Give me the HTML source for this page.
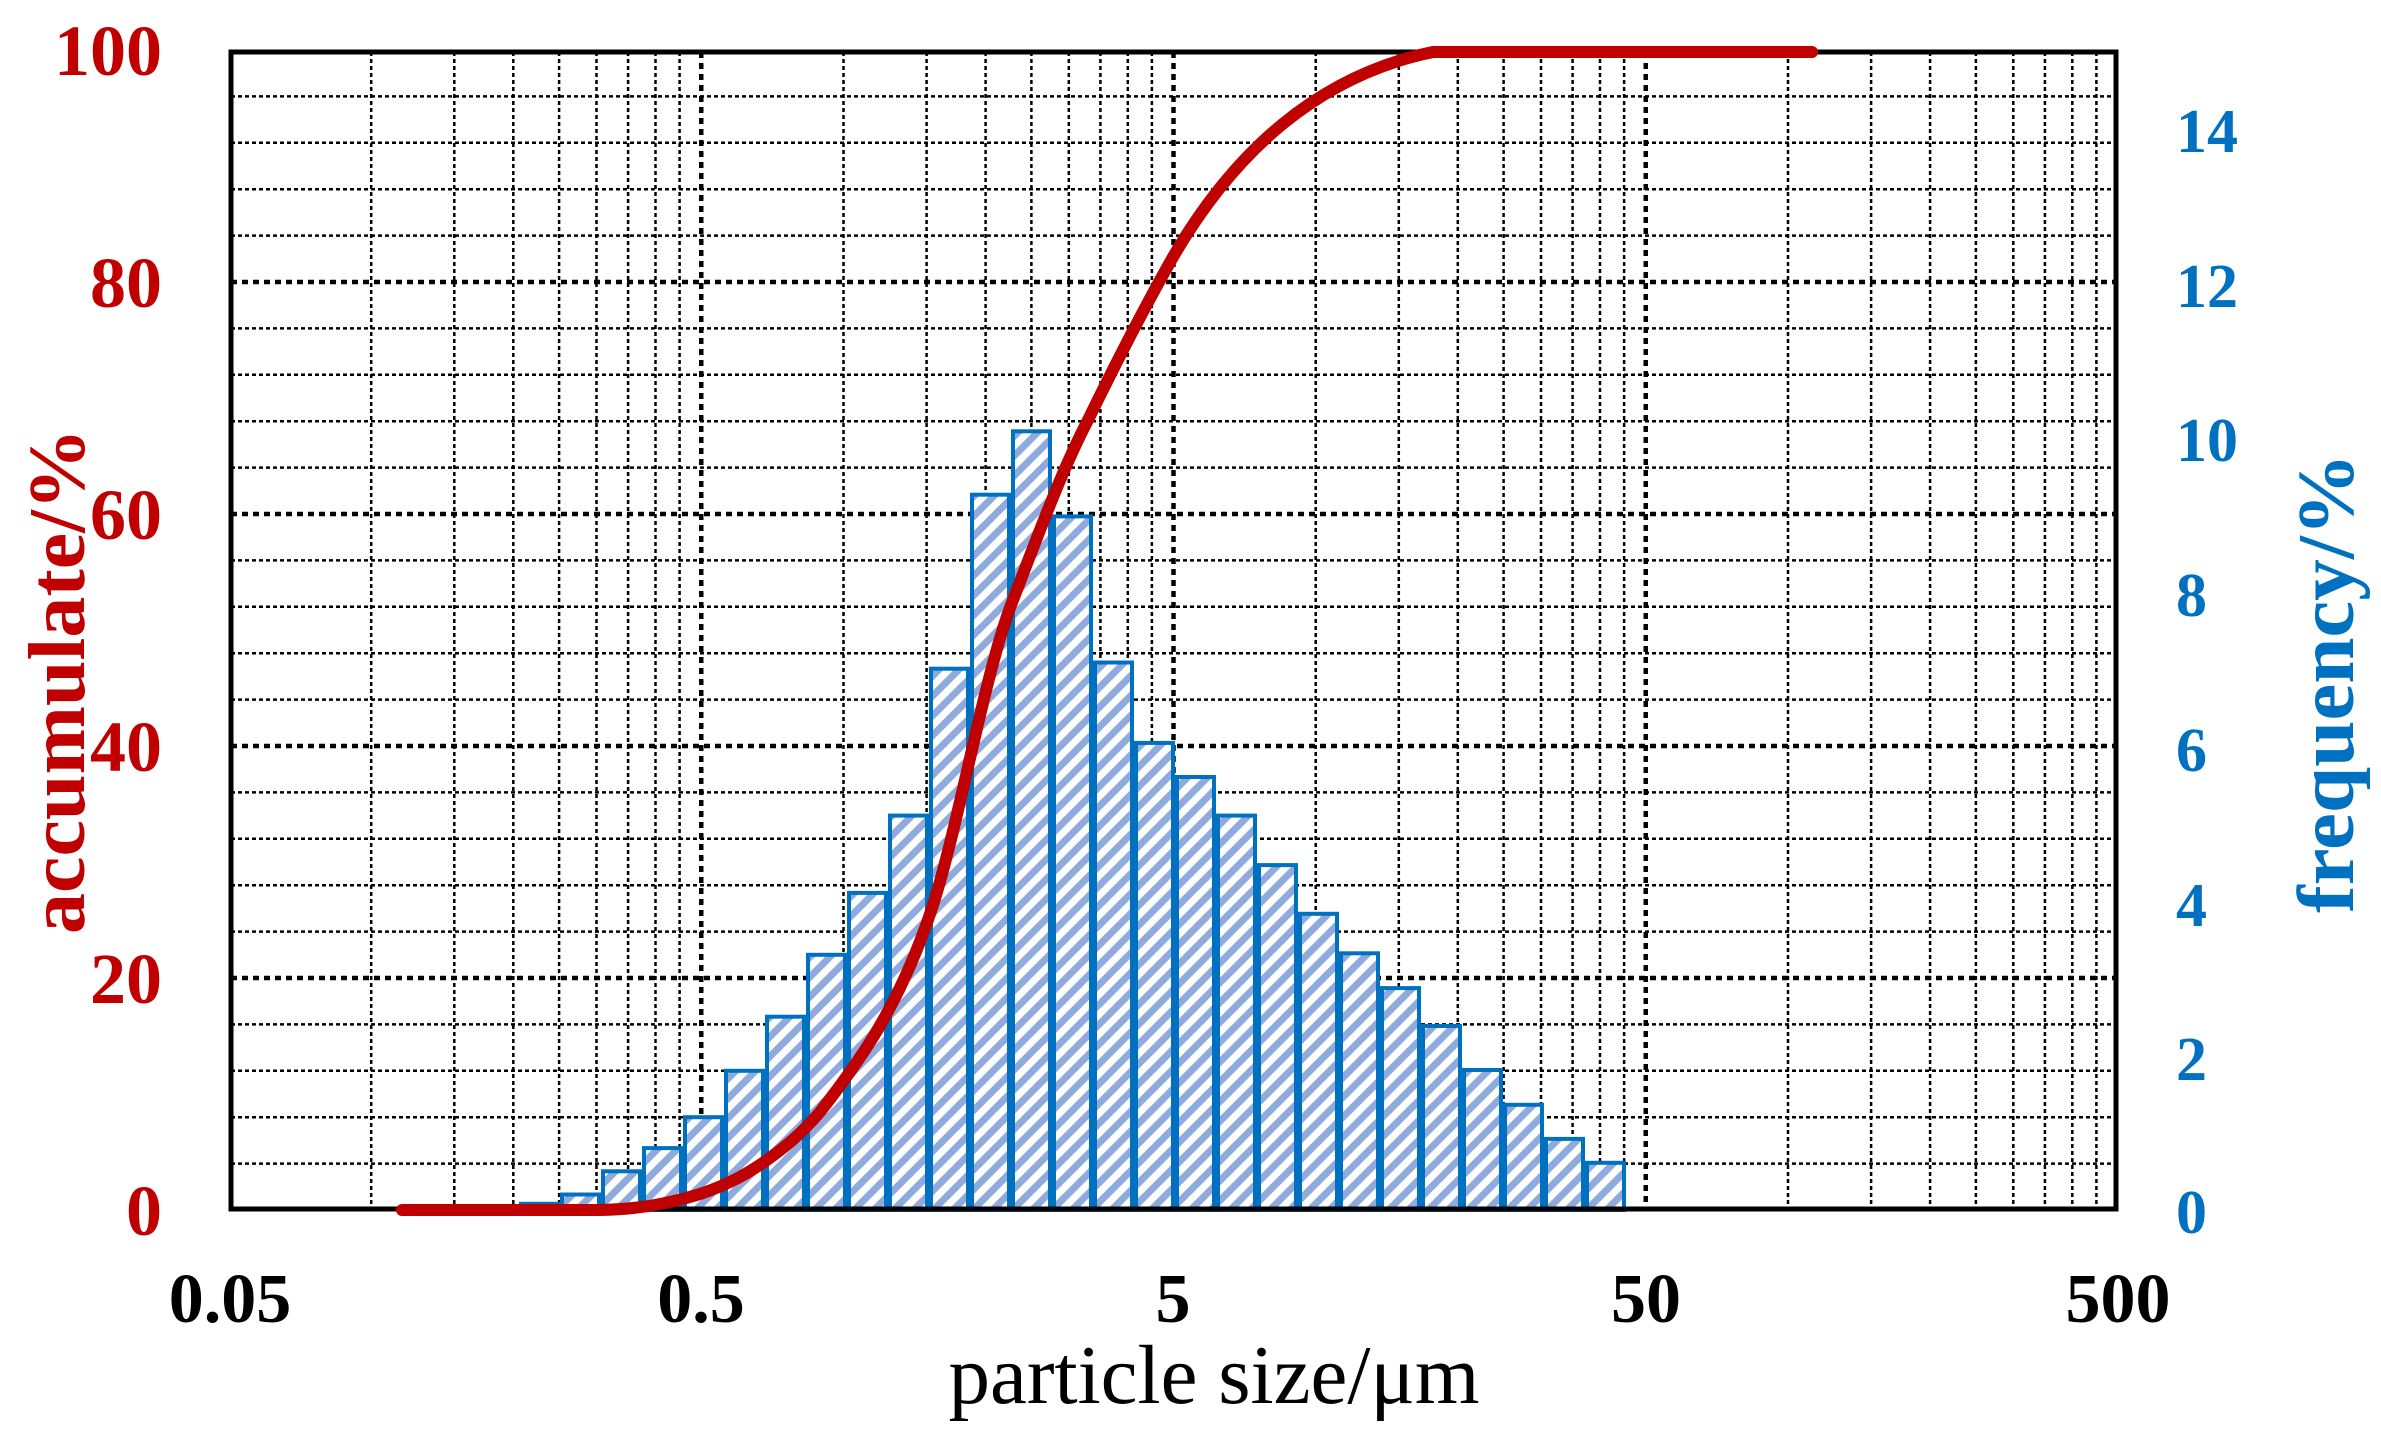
<!DOCTYPE html>
<html><head><meta charset="utf-8"><style>
html,body{margin:0;padding:0;background:#fff;}
svg{display:block;}
</style></head><body>
<svg width="2381" height="1440" viewBox="0 0 2381 1440" xmlns="http://www.w3.org/2000/svg">
<defs>
<pattern id="hatch" patternUnits="userSpaceOnUse" width="14" height="14" patternTransform="rotate(-45)">
<rect width="14" height="14" fill="#fff"/>
<rect width="14" height="7" fill="#8FAADC"/>
</pattern>
</defs>
<rect width="2381" height="1440" fill="#fff"/>
<g stroke="#000" stroke-width="2.5" stroke-dasharray="4,3" fill="none">
<path d="M371.2 52V1208M454.3 52V1208M513.3 52V1208M559.1 52V1208M596.5 52V1208M628.1 52V1208M655.5 52V1208M679.6 52V1208
M843.5 52V1208M926.6 52V1208M985.6 52V1208M1031.4 52V1208M1068.8 52V1208M1100.4 52V1208M1127.8 52V1208M1151.9 52V1208
M1315.7 52V1208M1398.8 52V1208M1457.8 52V1208M1503.6 52V1208M1541 52V1208M1572.6 52V1208M1600 52V1208M1624.1 52V1208
M1788 52V1208M1871.1 52V1208M1930.1 52V1208M1975.9 52V1208M2013.3 52V1208M2044.9 52V1208M2072.3 52V1208M2096.4 52V1208"/>
<path d="M231 96.4H2116M231 142.8H2116M231 189.2H2116M231 235.6H2116M231 328.4H2116M231 374.8H2116M231 421.2H2116M231 467.6H2116M231 560.4H2116M231 606.8H2116M231 653.2H2116M231 699.6H2116M231 792.4H2116M231 838.8H2116M231 885.2H2116M231 931.6H2116M231 1024.4H2116M231 1070.8H2116M231 1117.2H2116M231 1163.6H2116"/>
</g>
<g stroke="#000" stroke-width="4.5" stroke-dasharray="6,5" fill="none">
<path d="M701.25 52V1208M1173.5 52V1208M1645.75 52V1208"/>
<path d="M231 282H2116M231 514H2116M231 746H2116M231 978H2116"/>
</g>
<g fill="url(#hatch)" stroke="#0070C0" stroke-width="4">
<rect x="521" y="1203.8" width="37" height="6.2"/>
<rect x="562" y="1194.5" width="37" height="15.5"/>
<rect x="603" y="1171.3" width="37" height="38.7"/>
<rect x="644" y="1148.1" width="37" height="61.9"/>
<rect x="685" y="1117.2" width="37" height="92.8"/>
<rect x="726" y="1070.8" width="37" height="139.2"/>
<rect x="767" y="1016.7" width="37" height="193.3"/>
<rect x="808" y="954.8" width="37" height="255.2"/>
<rect x="849" y="892.9" width="37" height="317.1"/>
<rect x="890" y="815.6" width="37" height="394.4"/>
<rect x="931" y="668.7" width="37" height="541.3"/>
<rect x="972" y="494.7" width="37" height="715.3"/>
<rect x="1013" y="431.3" width="37" height="778.7"/>
<rect x="1054" y="516.4" width="37" height="693.6"/>
<rect x="1095" y="662.5" width="37" height="547.5"/>
<rect x="1136" y="742.9" width="37" height="467.1"/>
<rect x="1177" y="777" width="37" height="433"/>
<rect x="1218" y="815.6" width="37" height="394.4"/>
<rect x="1259" y="865.1" width="37" height="344.9"/>
<rect x="1300" y="913.8" width="37" height="296.2"/>
<rect x="1341" y="953.3" width="37" height="256.7"/>
<rect x="1382" y="988.1" width="37" height="221.9"/>
<rect x="1423" y="1026" width="37" height="184"/>
<rect x="1464" y="1070" width="37" height="140"/>
<rect x="1505" y="1104.8" width="37" height="105.2"/>
<rect x="1546" y="1138.9" width="37" height="71.1"/>
<rect x="1587" y="1162.8" width="37" height="47.2"/>
</g>
<rect x="231" y="52" width="1885" height="1157" fill="none" stroke="#000" stroke-width="5"/>
<path d="M402 1210 L600 1210 C640 1209 667 1204 700 1194 C730 1184 750 1172 767 1160 C785 1147 800 1135 820 1112 C845 1080 870 1045 887 1013 C905 980 920 945 933 905 C960 820 985 670 1013 600 C1040 530 1062 470 1088 420 C1110 375 1140 315 1173 257 C1235 150 1320 75 1433 52 L1812 52"
 fill="none" stroke="#C00000" stroke-width="12" stroke-linecap="round" stroke-linejoin="round"/>
<g font-family="Liberation Serif, serif" font-weight="bold" font-size="72" fill="#C00000" text-anchor="end">
<text x="162" y="75">100</text>
<text x="162" y="307">80</text>
<text x="162" y="539">60</text>
<text x="162" y="771">40</text>
<text x="162" y="1003">20</text>
<text x="162" y="1235">0</text>
</g>
<g font-family="Liberation Serif, serif" font-weight="bold" font-size="62" fill="#0070C0" text-anchor="start">
<text x="2176" y="152">14</text>
<text x="2176" y="307">12</text>
<text x="2176" y="461">10</text>
<text x="2176" y="616">8</text>
<text x="2176" y="771">6</text>
<text x="2176" y="926">4</text>
<text x="2176" y="1080">2</text>
<text x="2176" y="1233">0</text>
</g>
<g font-family="Liberation Serif, serif" font-weight="bold" font-size="70" fill="#000" text-anchor="middle">
<text x="230" y="1322">0.05</text>
<text x="701" y="1322">0.5</text>
<text x="1173" y="1322">5</text>
<text x="1646" y="1322">50</text>
<text x="2118" y="1322">500</text>
</g>
<text x="1214" y="1403" font-family="Liberation Serif, serif" font-size="84" fill="#000" text-anchor="middle" textLength="531" lengthAdjust="spacingAndGlyphs">particle size/μm</text>
<text transform="translate(84,681) rotate(-90)" font-family="Liberation Serif, serif" font-weight="bold" font-size="80" fill="#C00000" text-anchor="middle" textLength="506" lengthAdjust="spacingAndGlyphs">accumulate/%</text>
<text transform="translate(2353,683) rotate(-90)" font-family="Liberation Serif, serif" font-weight="bold" font-size="80" fill="#0070C0" text-anchor="middle" textLength="460" lengthAdjust="spacingAndGlyphs">frequency/%</text>
</svg>
</body></html>
